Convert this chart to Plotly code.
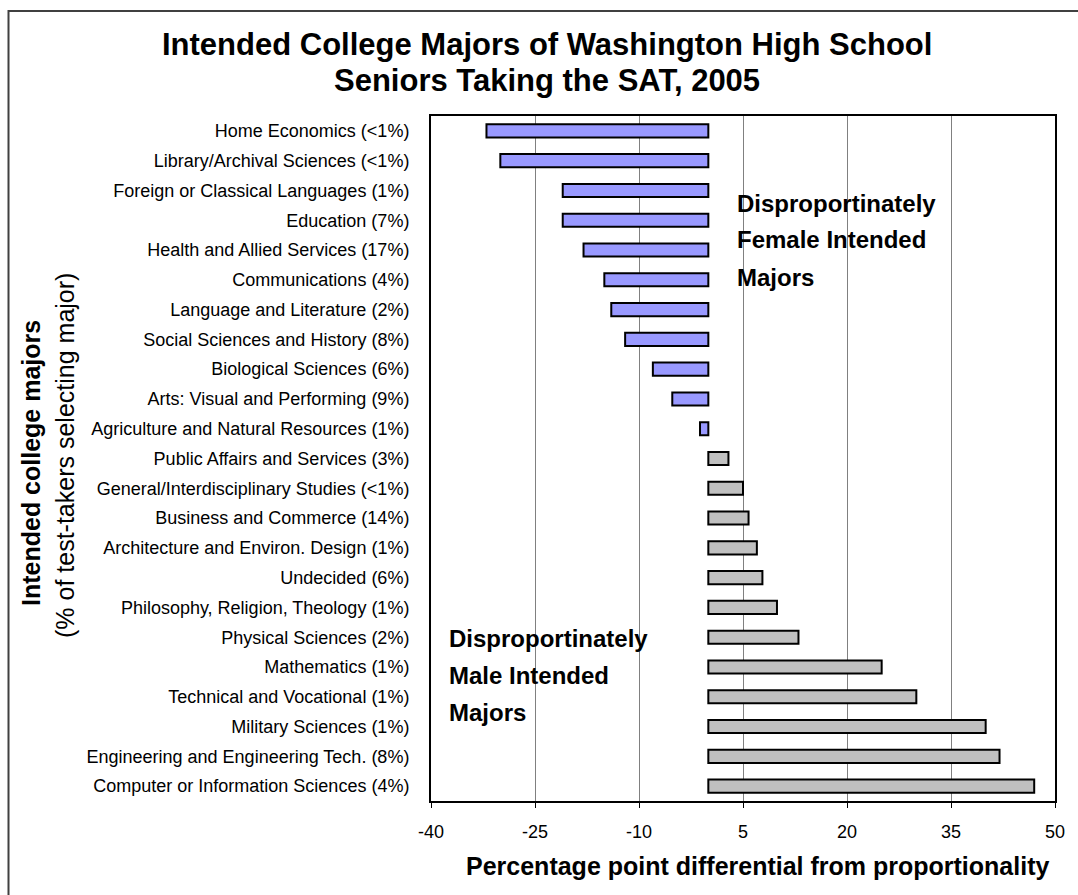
import plotly.graph_objects as go

categories = [
    "Home Economics (<1%)",
    "Library/Archival Sciences (<1%)",
    "Foreign or Classical Languages (1%)",
    "Education (7%)",
    "Health and Allied Services (17%)",
    "Communications (4%)",
    "Language and Literature (2%)",
    "Social Sciences and History (8%)",
    "Biological Sciences (6%)",
    "Arts: Visual and Performing (9%)",
    "Agriculture and Natural Resources (1%)",
    "Public Affairs and Services (3%)",
    "General/Interdisciplinary Studies (<1%)",
    "Business and Commerce (14%)",
    "Architecture and Environ. Design (1%)",
    "Undecided (6%)",
    "Philosophy, Religion, Theology (1%)",
    "Physical Sciences (2%)",
    "Mathematics (1%)",
    "Technical and Vocational (1%)",
    "Military Sciences (1%)",
    "Engineering and Engineering Tech. (8%)",
    "Computer or Information Sciences (4%)",
]
differential = [-32, -30, -21, -21, -18, -15, -14, -12, -8, -5.2, -1.2,
                2.9, 5, 5.8, 7, 7.8, 9.9, 13, 25, 30, 40, 42, 47]
x_ticks = [-40, -25, -10, 5, 20, 35, 50]

FEMALE_COLOR = "#9999FF"
MALE_COLOR = "#C0C0C0"
FONT = "Liberation Sans, Arial, sans-serif"

W, H = 1078, 895
L, R, T, B = 431, 1055, 116, 801


def px(x):
    return (x - L) / (R - L)


def py(y):
    return (B - y) / (B - T)


colors = [FEMALE_COLOR if v < 0 else MALE_COLOR for v in differential]

fig = go.Figure()
fig.add_trace(go.Bar(
    x=differential, y=categories, orientation="h",
    marker=dict(color=colors, line=dict(color="black", width=2)),
    width=0.44, hoverinfo="x+y",
))

fig.update_layout(
    width=W, height=H,
    margin=dict(l=L, r=W - R, t=T, b=H - B, autoexpand=False),
    paper_bgcolor="white", plot_bgcolor="white",
    showlegend=False,
    font=dict(family=FONT, color="black"),
    xaxis=dict(
        range=[-40, 50], tickvals=x_ticks, ticktext=[str(v) for v in x_ticks],
        showgrid=True, gridcolor="#808080", gridwidth=1,
        zeroline=False, showline=True, linecolor="black", linewidth=2,
        mirror=True, ticks="outside", ticklen=5, tickcolor="black",
        tickfont=dict(size=18, family=FONT, color="black"),
        ticklabelstandoff=8,
    ),
    yaxis=dict(
        autorange="reversed", showgrid=False, zeroline=False,
        showline=True, linecolor="black", linewidth=2, mirror=True,
        ticks="", tickfont=dict(size=18, family=FONT, color="black"),
        ticklabelstandoff=16,
    ),
)

shapes = [
    # outer frame (clipped by the page edges)
    dict(type="rect", xref="paper", yref="paper",
         x0=px(8.5), x1=px(1090), y0=py(905), y1=py(11),
         line=dict(color="#404040", width=2), fillcolor="rgba(0,0,0,0)"),
    # white boxes behind the callout text (hide gridlines)
    dict(type="rect", xref="paper", yref="paper", layer="between",
         x0=px(727), x1=px(958), y0=py(297), y1=py(185),
         line=dict(width=0), fillcolor="white"),
    dict(type="rect", xref="paper", yref="paper", layer="between",
         x0=px(440), x1=px(676), y0=py(733), y1=py(622),
         line=dict(width=0), fillcolor="white"),
]
fig.update_layout(shapes=shapes)

ann = []
# title
ann.append(dict(text="<b>Intended College Majors of Washington High School</b>",
                x=px(547), y=py(44), xref="paper", yref="paper",
                xanchor="center", yanchor="middle", showarrow=False,
                font=dict(size=31, family=FONT, color="black")))
ann.append(dict(text="<b>Seniors Taking the SAT, 2005</b>",
                x=px(547), y=py(80), xref="paper", yref="paper",
                xanchor="center", yanchor="middle", showarrow=False,
                font=dict(size=31, family=FONT, color="black")))
# axis titles
ann.append(dict(text="<b>Intended college majors</b>",
                x=px(31), y=py(463), xref="paper", yref="paper", textangle=-90,
                xanchor="center", yanchor="middle", showarrow=False,
                font=dict(size=25, family=FONT, color="black")))
ann.append(dict(text="(% of test-takers selecting major)",
                x=px(65), y=py(456), xref="paper", yref="paper", textangle=-90,
                xanchor="center", yanchor="middle", showarrow=False,
                font=dict(size=25, family=FONT, color="black")))
ann.append(dict(text="<b>Percentage point differential from proportionality</b>",
                x=px(757), y=py(866), xref="paper", yref="paper",
                xanchor="center", yanchor="middle", showarrow=False,
                font=dict(size=25, family=FONT, color="black")))
# callouts
for i, line in enumerate(["Disproportinately", "Female Intended", "Majors"]):
    ann.append(dict(text=f"<b>{line}</b>", x=px(735), y=py(203 + 37 * i),
                    xref="paper", yref="paper", xanchor="left", yanchor="middle",
                    showarrow=False, font=dict(size=24, family=FONT, color="black")))
for i, line in enumerate(["Disproportinately", "Male Intended", "Majors"]):
    ann.append(dict(text=f"<b>{line}</b>", x=px(447), y=py(638 + 37 * i),
                    xref="paper", yref="paper", xanchor="left", yanchor="middle",
                    showarrow=False, font=dict(size=24, family=FONT, color="black")))
fig.update_layout(annotations=ann)

fig.write_html("out.html")
